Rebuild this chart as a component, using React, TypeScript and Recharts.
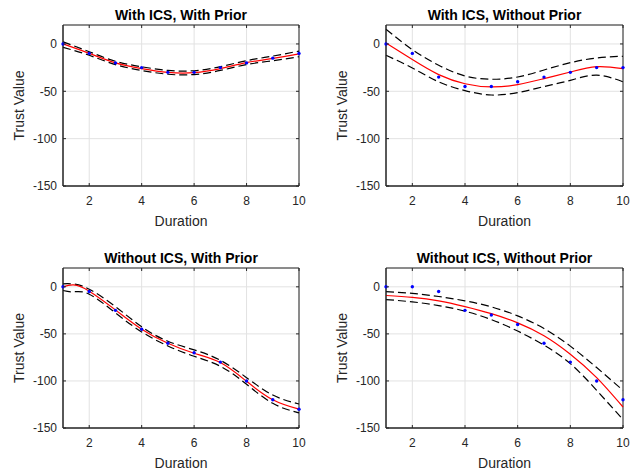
import React from "react";
import { LineChart, Line, XAxis, YAxis, CartesianGrid, ReferenceArea } from "recharts";

// Shared axes
const durations = [1, 2, 3, 4, 5, 6, 7, 8, 9, 10];
const xTicks = [2, 4, 6, 8, 10];
const yTicks = [-150, -100, -50, 0];

// With ICS, With Prior
const p1CurveX = [1, 2, 3, 4, 5, 6, 7, 8, 9, 10];
const p1Obs = [0, -10, -20, -25, -30, -30, -25, -20, -15, -10];
const p1Fit = [0, -10, -20, -26, -30, -30.3, -26, -19.7, -15.3, -10.5];
const p1Hi = [2.2, -8.2, -18.3, -24.1, -28, -28.3, -24, -17.7, -12.8, -7.5];
const p1Lo = [-3.5, -12, -21.8, -28, -32, -32.3, -28, -21.8, -17.7, -13.5];

// With ICS, Without Prior
const p2CurveX = [1, 2, 3, 4, 5, 6, 7, 8, 9, 10];
const p2Obs = [0, -10, -35, -45, -45, -40, -35, -30, -25, -25];
const p2Fit = [1, -16.5, -32.4, -42, -45.4, -43, -36.6, -29.6, -24, -26];
const p2Hi = [15.5, -6, -22.5, -33.8, -37.3, -34.9, -27.5, -19.8, -14.8, -13];
const p2Lo = [-12, -25.4, -40, -49.3, -53.9, -51.4, -45, -38.4, -33, -40];

// Without ICS, With Prior
const p3CurveX = [1, 1.4, 2, 3, 4, 5, 6, 7, 8, 9, 10];
const p3Obs = [0, -5, -25, -45, -60, -70, -80, -100, -120, -130];
const p3Fit = [0, 2, -4.6, -24.5, -45, -60, -70.6, -80.5, -100.4, -120, -130];
const p3Hi = [3.2, 3, -2.5, -21, -42.5, -57.8, -67, -78, -96.5, -115, -124.5];
const p3Lo = [-3.9, -5.3, -7.8, -27.7, -47.9, -62.8, -73.8, -84.4, -103.5, -123.8, -134];

// Without ICS, Without Prior
const p4CurveX = [1, 2, 3, 4, 5, 6, 7, 8, 9, 10];
const p4Obs = [0, 0, -5, -25, -30, -40, -60, -80, -100, -120];
const p4Fit = [-9.2, -11.3, -14.9, -21, -28.5, -38.3, -52, -71.6, -96.5, -127.7];
const p4Hi = [-5, -7, -10.3, -14.9, -21.3, -30.9, -44.3, -63, -85.8, -110];
const p4Lo = [-13.5, -16, -19.9, -25.9, -34.8, -47, -62, -81.6, -110, -141];

const AXIS = "#262626";
const FONT = "'Liberation Sans', Arial, Helvetica, sans-serif";

function buildRows(curveX: number[], fit: number[], hi: number[], lo: number[], obs: number[]) {
  const map = new Map<number, any>();
  curveX.forEach((x, i) => map.set(x, { x, fit: fit[i], hi: hi[i], lo: lo[i] }));
  durations.forEach((x, i) => {
    const row = map.get(x) || { x };
    row.obs = obs[i];
    map.set(x, row);
  });
  return Array.from(map.values()).sort((a, b) => a.x - b.x);
}

const YW = 63;
const TOP = 25;
const RIGHT = 10;
const XH = 50;

function Panel({ left, top, w, h, title, rows }: any) {
  const XTick = (props: any) => {
    const { x, y, payload } = props;
    return (
      <g>
        <line x1={x} x2={x} y1={y} y2={y - 3} stroke={AXIS} />
        <line x1={x} x2={x} y1={y - h} y2={y - h + 3} stroke={AXIS} />
        <text x={x} y={y + 19} textAnchor="middle" fill={AXIS} fontSize={12}>
          {payload.value}
        </text>
      </g>
    );
  };
  const YTick = (props: any) => {
    const { x, y, payload } = props;
    return (
      <g>
        <line x1={x} x2={x + 3} y1={y} y2={y} stroke={AXIS} />
        <line x1={x + w} x2={x + w - 3} y1={y} y2={y} stroke={AXIS} />
        <text x={x - 6} y={y} dy="0.36em" textAnchor="end" fill={AXIS} fontSize={12}>
          {payload.value}
        </text>
      </g>
    );
  };

  return (
    <>
      <div
        style={{
          position: "absolute",
          left,
          top: top - 17,
          width: w,
          textAlign: "center",
          fontWeight: "bold",
          fontSize: 14,
          lineHeight: "14px",
          color: "#000",
          whiteSpace: "nowrap",
        }}
      >
        {title}
      </div>
      <div style={{ position: "absolute", left: left - YW, top: top - TOP }}>
        <LineChart
          width={YW + w + RIGHT}
          height={TOP + h + XH}
          data={rows}
          margin={{ top: TOP, right: RIGHT, bottom: 0, left: 0 }}
        >
          <CartesianGrid stroke="#e2e2e2" />
          <XAxis
            type="number"
            dataKey="x"
            domain={[1, 10]}
            ticks={xTicks}
            height={XH}
            tickSize={0}
            tickMargin={0}
            tickLine={false}
            axisLine={{ stroke: AXIS }}
            tick={XTick}
            label={{ value: "Duration", position: "insideBottom", offset: 10.5, fill: AXIS, fontSize: 14 }}
          />
          <YAxis
            type="number"
            domain={[-150, 20]}
            ticks={yTicks}
            width={YW}
            tickSize={0}
            tickMargin={0}
            tickLine={false}
            axisLine={{ stroke: AXIS }}
            tick={YTick}
            allowDataOverflow
            label={{
              value: "Trust Value",
              angle: -90,
              position: "insideLeft",
              offset: 19,
              fill: AXIS,
              fontSize: 14,
              style: { textAnchor: "middle" },
            }}
          />
          <ReferenceArea x1={1} x2={10} y1={-150} y2={20} fill="none" stroke={AXIS} strokeWidth={1} />
          <Line type="natural" dataKey="hi" stroke="#000" strokeWidth={1.2} strokeDasharray="8 4" dot={false} isAnimationActive={false} />
          <Line type="natural" dataKey="lo" stroke="#000" strokeWidth={1.2} strokeDasharray="8 4" dot={false} isAnimationActive={false} />
          <Line type="natural" dataKey="fit" stroke="#ff0000" strokeWidth={1.2} dot={false} isAnimationActive={false} />
          <Line
            dataKey="obs"
            stroke="none"
            dot={{ r: 1.7, fill: "#0000ff", stroke: "none" }}
            activeDot={false}
            isAnimationActive={false}
          />
        </LineChart>
      </div>
    </>
  );
}

export default function App() {
  return (
    <div
      style={{
        position: "absolute",
        left: 0,
        top: 0,
        width: 637,
        height: 472,
        background: "#fff",
        fontFamily: FONT,
      }}
    >
      <Panel left={63} top={25} w={236} h={161} title="With ICS, With Prior" rows={buildRows(p1CurveX, p1Fit, p1Hi, p1Lo, p1Obs)} />
      <Panel left={386} top={25} w={237} h={161} title="With ICS, Without Prior" rows={buildRows(p2CurveX, p2Fit, p2Hi, p2Lo, p2Obs)} />
      <Panel left={63} top={268} w={236} h={160} title="Without ICS, With Prior" rows={buildRows(p3CurveX, p3Fit, p3Hi, p3Lo, p3Obs)} />
      <Panel left={386} top={268} w={237} h={160} title="Without ICS, Without Prior" rows={buildRows(p4CurveX, p4Fit, p4Hi, p4Lo, p4Obs)} />
    </div>
  );
}
